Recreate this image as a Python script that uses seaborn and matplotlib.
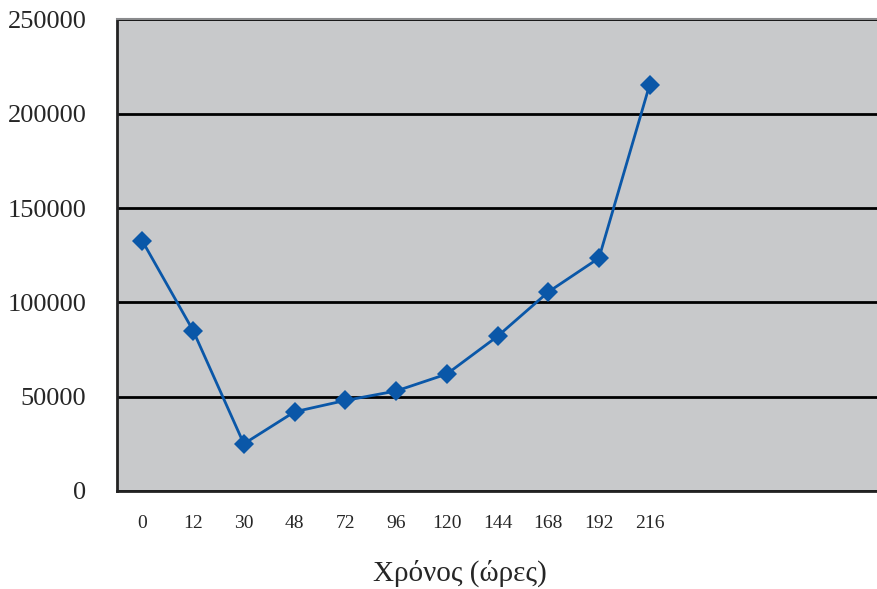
import numpy as np
import pandas as pd
import matplotlib
matplotlib.use("Agg")
import matplotlib.pyplot as plt
import seaborn as sns

# data
hours = ["0", "12", "30", "48", "72", "96", "120", "144", "168", "192", "216"]
counts = [132500, 85000, 25000, 42000, 48000, 53000, 62000, 82000, 105500, 123500, 215500]
n_slots = 15  # category slots on the x axis (last ones empty)

df = pd.DataFrame({"pos": np.arange(len(hours)), "count": counts})

sns.set_style("white")
plt.rcParams["font.family"] = ["Liberation Serif", "DejaVu Serif"]

fig = plt.figure(figsize=(8.78, 5.89), dpi=100)
ax = fig.add_axes([0.1333, 0.1664, 0.8667, 0.8006])
ax.set_facecolor("#c8c9cb")

sns.lineplot(data=df, x="pos", y="count", ax=ax, color="#0a57a8", linewidth=2,
             marker="D", markersize=10, markeredgewidth=0, zorder=3)

ax.set_ylim(0, 250000)
ax.set_xlim(-0.5, n_slots - 0.8)
ax.set_yticks(np.arange(0, 250001, 50000))
ax.grid(axis="y", color="black", linewidth=2)
ax.set_axisbelow(True)

# slot boundary ticks, labels in between
ax.set_xticks(np.arange(-0.5, n_slots, 1.0))
ax.set_xticklabels([])
ax.set_xticks(np.arange(len(hours)), minor=True)
ax.set_xticklabels(hours, minor=True, fontsize=14)
ax.tick_params(axis="x", which="major", direction="out", length=5, width=2, color="#222222")
ax.tick_params(axis="x", which="minor", length=0, pad=17)
ax.tick_params(axis="y", direction="out", length=11, width=2, color="#222222",
               labelsize=19, pad=11)

for s in ["left", "bottom"]:
    ax.spines[s].set_color("#222222")
    ax.spines[s].set_linewidth(2)
ax.spines["top"].set_color("#8a8b8d")
ax.spines["top"].set_linewidth(1.5)
ax.spines["right"].set_visible(False)

ax.set_xlabel("Χρόνος (ώρες)", fontsize=21)
ax.xaxis.set_label_coords(0.45, -0.145)
ax.set_ylabel("")

fig.savefig("out.png", dpi=100)
